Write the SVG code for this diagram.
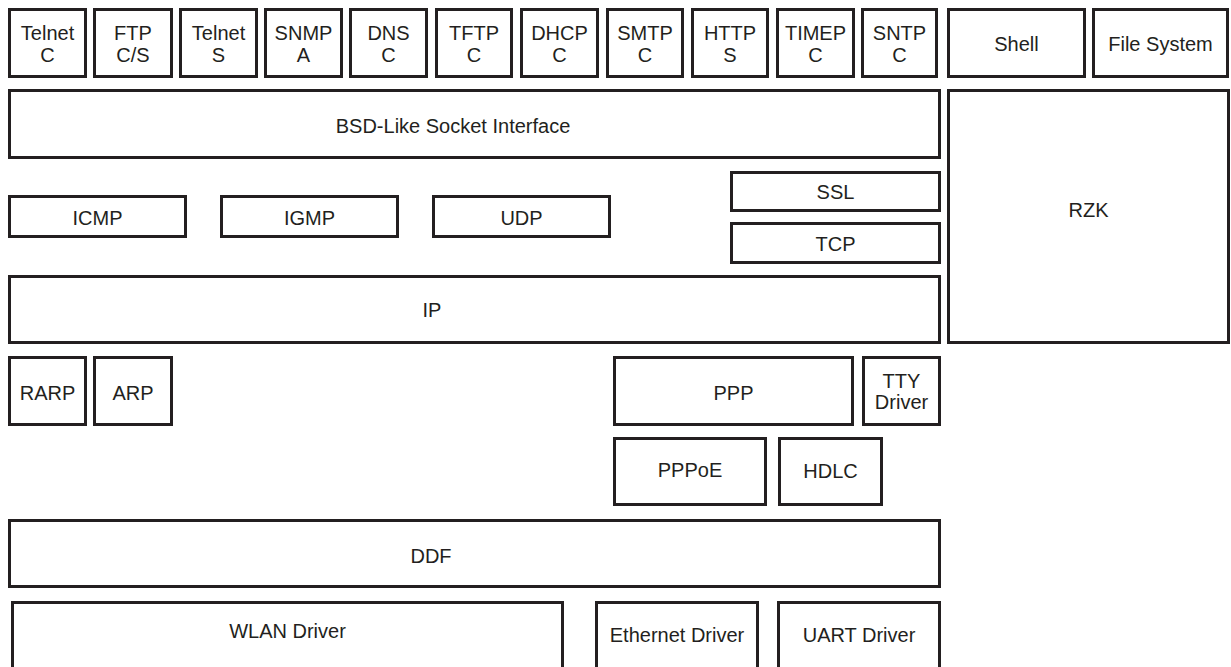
<svg xmlns="http://www.w3.org/2000/svg" width="1231" height="667" viewBox="0 0 1231 667">
<style>
rect{fill:#fff;stroke:#231f20;stroke-width:3}
text{font-family:"Liberation Sans",Arial,sans-serif;font-size:20px;fill:#231f20;text-anchor:middle}
</style>
<rect x="0" y="0" width="1231" height="667" style="stroke:none"/>
<g id="telnet-c"><rect x="9.5" y="9.5" width="76" height="67"/><text x="47.5" y="40">Telnet</text><text x="47.5" y="62">C</text></g>
<g id="ftp-cs"><rect x="94.5" y="9.5" width="77" height="67"/><text x="133" y="40">FTP</text><text x="133" y="62">C/S</text></g>
<g id="telnet-s"><rect x="180.5" y="9.5" width="76" height="67"/><text x="218.5" y="40">Telnet</text><text x="218.5" y="62">S</text></g>
<g id="snmp-a"><rect x="265.5" y="9.5" width="76" height="67"/><text x="303.5" y="40">SNMP</text><text x="303.5" y="62">A</text></g>
<g id="dns-c"><rect x="350.5" y="9.5" width="76" height="67"/><text x="388.5" y="40">DNS</text><text x="388.5" y="62">C</text></g>
<g id="tftp-c"><rect x="436.5" y="9.5" width="75" height="67"/><text x="474" y="40">TFTP</text><text x="474" y="62">C</text></g>
<g id="dhcp-c"><rect x="521.5" y="9.5" width="76" height="67"/><text x="559.5" y="40">DHCP</text><text x="559.5" y="62">C</text></g>
<g id="smtp-c"><rect x="607.5" y="9.5" width="75" height="67"/><text x="645" y="40">SMTP</text><text x="645" y="62">C</text></g>
<g id="http-s"><rect x="692.5" y="9.5" width="75" height="67"/><text x="730" y="40">HTTP</text><text x="730" y="62">S</text></g>
<g id="timep-c"><rect x="777.5" y="9.5" width="76" height="67"/><text x="815.5" y="40">TIMEP</text><text x="815.5" y="62">C</text></g>
<g id="sntp-c"><rect x="862.5" y="9.5" width="74" height="67"/><text x="899.5" y="40">SNTP</text><text x="899.5" y="62">C</text></g>
<g id="shell"><rect x="948.5" y="9.5" width="136" height="67"/><text x="1016.5" y="51">Shell</text></g>
<g id="file-system"><rect x="1093.5" y="9.5" width="134" height="67"/><text x="1160.5" y="51">File System</text></g>
<g id="bsd"><rect x="9.5" y="90.5" width="930" height="67"/><text x="453" y="133">BSD-Like Socket Interface</text></g>
<g id="rzk"><rect x="948.5" y="90.5" width="280" height="252"/><text x="1088.5" y="217">RZK</text></g>
<g id="icmp"><rect x="9.5" y="196.5" width="176" height="40"/><text x="97.5" y="225">ICMP</text></g>
<g id="igmp"><rect x="221.5" y="196.5" width="176" height="40"/><text x="309.5" y="225">IGMP</text></g>
<g id="udp"><rect x="433.5" y="196.5" width="176" height="40"/><text x="521.5" y="225">UDP</text></g>
<g id="ssl"><rect x="731.5" y="172.5" width="208" height="38"/><text x="835.5" y="199">SSL</text></g>
<g id="tcp"><rect x="731.5" y="223.5" width="208" height="39"/><text x="835.5" y="250.5">TCP</text></g>
<g id="ip"><rect x="9.5" y="276.5" width="930" height="66"/><text x="432" y="317">IP</text></g>
<g id="rarp"><rect x="9.5" y="357.5" width="76" height="67"/><text x="47.5" y="400">RARP</text></g>
<g id="arp"><rect x="94.5" y="357.5" width="77" height="67"/><text x="133" y="400">ARP</text></g>
<g id="ppp"><rect x="614.5" y="357.5" width="238" height="67"/><text x="733.5" y="400">PPP</text></g>
<g id="tty"><rect x="863.5" y="357.5" width="76" height="67"/><text x="901.5" y="388">TTY</text><text x="901.5" y="409">Driver</text></g>
<g id="pppoe"><rect x="614.5" y="438.5" width="151" height="66"/><text x="690" y="477">PPPoE</text></g>
<g id="hdlc"><rect x="779.5" y="438.5" width="102" height="66"/><text x="830.5" y="478">HDLC</text></g>
<g id="ddf"><rect x="9.5" y="520.5" width="930" height="66"/><text x="431" y="563">DDF</text></g>
<g id="wlan"><rect x="12.5" y="602.5" width="550" height="80"/><text x="287.5" y="638">WLAN Driver</text></g>
<g id="ethernet"><rect x="596.5" y="602.5" width="161" height="80"/><text x="677" y="642">Ethernet Driver</text></g>
<g id="uart"><rect x="778.5" y="602.5" width="161" height="80"/><text x="859" y="642">UART Driver</text></g>
<g id="connectors"></g>
</svg>
